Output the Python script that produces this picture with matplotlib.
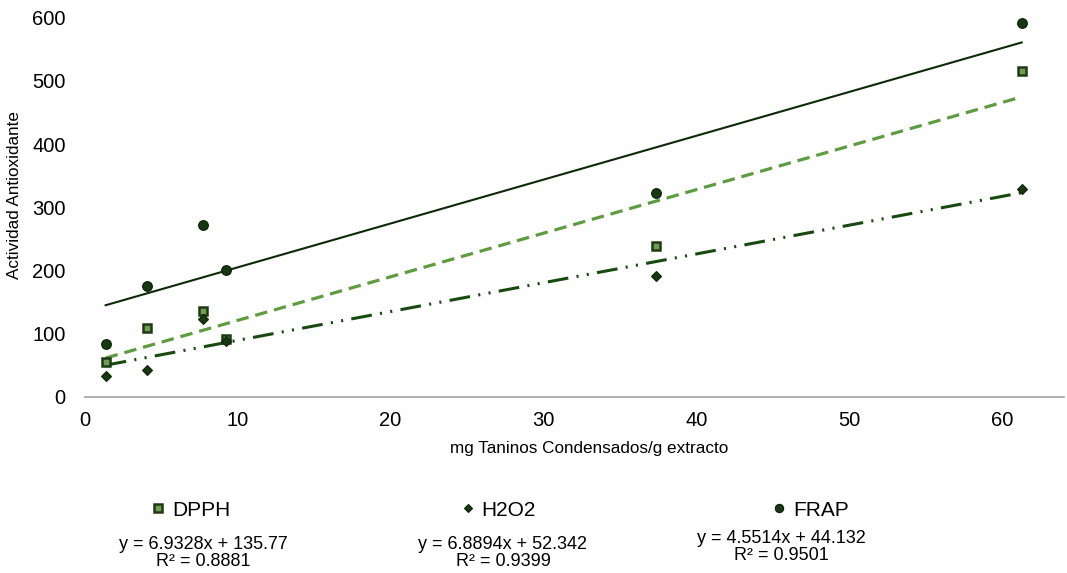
import numpy as np
import matplotlib.pyplot as plt
from matplotlib.lines import Line2D

plt.rcParams['font.family'] = ['Liberation Sans', 'DejaVu Sans']
plt.rcParams['lines.scale_dashes'] = False

# data
x = [1.35, 4.04, 7.70, 9.21, 37.4, 61.3]
dpph = [55, 109, 136, 92, 239, 516]
h2o2 = [33, 42, 123, 88, 192, 329]
frap = [84, 176, 272, 201, 322, 592]

# trend line coefficients (slope, intercept) as printed on the chart
trend_frap = (6.9328, 135.77)
trend_dpph = (6.8894, 52.342)
trend_h2o2 = (4.5514, 44.132)

eq_labels = ["y = 6.9328x + 135.77\nR² = 0.8881",
             "y = 6.8894x + 52.342\nR² = 0.9399",
             "y = 4.5514x + 44.132\nR² = 0.9501"]

c_dark = "#0c2a07"
c_mid = "#174a0e"
c_light = "#5e9c40"

W, H = 1067, 573
fig = plt.figure(figsize=(W / 100, H / 100), dpi=100)
ax = fig.add_axes([85 / W, (H - 397) / H, (1064 - 85) / W, 392 / H])

xs = np.array([min(x), max(x)])
ax.plot(xs, trend_frap[0] * xs + trend_frap[1], color=c_dark, lw=1.5)
ax.plot(xs, trend_dpph[0] * xs + trend_dpph[1], color=c_light, lw=2.3, ls=(0, (9, 5)))
ax.plot(xs, trend_h2o2[0] * xs + trend_h2o2[1], color=c_mid, lw=2.2, ls=(0, (15, 6, 1.5, 6, 1.5, 6)))

mk_dpph = dict(marker="s", ms=6, mfc="#6f9e52", mec="#1f3a13", mew=1.8, ls="none")
mk_h2o2 = dict(marker="D", ms=5, mfc="#18380f", mec="#0e2408", mew=0.8, ls="none")
mk_frap = dict(marker="o", ms=7, mfc="#163810", mec="#0a1f06", mew=0.8, ls="none")

ax.plot(x, dpph, **mk_dpph, zorder=3)
ax.plot(x, h2o2, **mk_h2o2, zorder=3)
ax.plot(x, frap, **mk_frap, zorder=3)

ax.set_xlim(0, (1064 - 85) / 15.28)
ax.set_ylim(0, 620)
ax.set_xticks(range(0, 61, 10))
ax.set_yticks(range(0, 601, 100))
ax.tick_params(axis="both", length=0, labelsize=14.5)
ax.tick_params(axis="x", pad=10)
ax.tick_params(axis="y", pad=14)
for side in ["top", "right", "left"]:
    ax.spines[side].set_visible(False)
ax.spines["bottom"].set_color("#a0a0a0")
ax.spines["bottom"].set_linewidth(1.2)

fig.text(15 / W, 1 - 195 / H, "Actividad Antioxidante", rotation=90,
         ha="center", va="center", fontsize=12.3)
fig.text(589 / W, 1 - 449 / H, "mg Taninos Condensados/g extracto",
         ha="center", va="center", fontsize=12.3)

# legend entries, one per column
for style, name, cx in [(mk_dpph, "DPPH", 191), (mk_h2o2, "H2O2", 499), (mk_frap, "FRAP", 811)]:
    st = dict(style)
    st["ms"] = st["ms"] * 0.85
    h = Line2D([], [], **st)
    fig.legend(handles=[h], labels=[name], loc="center",
               bbox_to_anchor=(cx / W, 1 - 510 / H), frameon=False,
               fontsize=15, handlelength=0.6, handletextpad=0.35)

# equation texts
for lbl, cx, cy in zip(eq_labels, [203, 503, 781], [553, 553, 547]):
    fig.text(cx / W, 1 - cy / H, lbl, ha="center", va="center",
             fontsize=13, linespacing=1.05)

fig.savefig("out.png", dpi=100, facecolor="white")
